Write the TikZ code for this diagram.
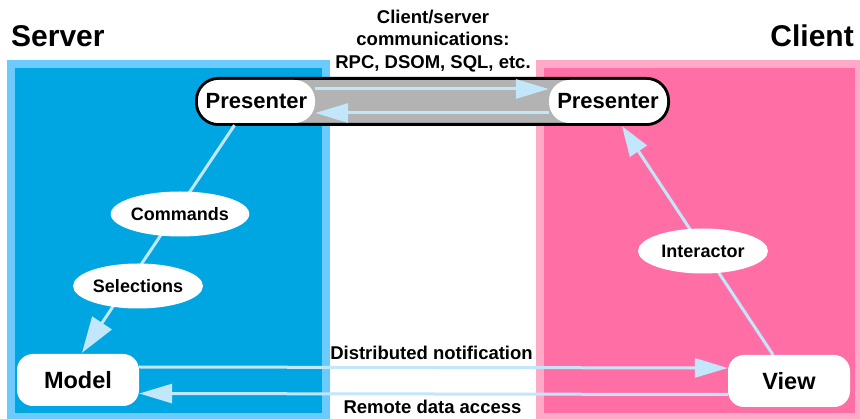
\documentclass[tikz,border=0pt]{standalone}
\usepackage{fontspec}
\setmainfont{Liberation Sans}
\usetikzlibrary{arrows.meta,shapes.geometric}
\definecolor{srvedge}{HTML}{6BCBFD}
\definecolor{srvfill}{HTML}{00A6E1}
\definecolor{cliedge}{HTML}{FFA9C8}
\definecolor{clifill}{HTML}{FF6FA6}
\definecolor{linkblue}{HTML}{C2E6FA}
\definecolor{bargray}{HTML}{B3B3B3}
\tikzset{
  box/.style={fill=white, rounded corners=16pt, minimum width=122pt, minimum height=52pt,
    inner sep=0pt, font=\fontsize{23.5}{27}\selectfont\bfseries},
  pres/.style={fill=white, rounded corners=20.5pt, minimum height=43pt,
    inner sep=0pt, font=\fontsize{22}{26}\selectfont\bfseries},
  tag/.style={ellipse, fill=white, minimum width=130pt, minimum height=45pt,
    inner sep=0pt, font=\fontsize{18}{20}\selectfont\bfseries},
  side/.style={inner sep=0pt, font=\fontsize{30}{34}\selectfont\bfseries},
  note/.style={inner sep=0pt, font=\fontsize{18.5}{22.5}\selectfont\bfseries},
  link/.style={draw=linkblue, line width=3pt, -{Triangle[length=33pt,width=19pt]}},
}
\begin{document}
\begin{tikzpicture}[x=1pt,y=-1pt]
\useasboundingbox (0,0) rectangle (860,419);

\fill[srvedge] (7,60) rectangle (330,419);
\fill[srvfill] (15,68) rectangle (322,413);
\fill[cliedge] (536,60) rectangle (860,419);
\fill[clifill] (544,68) rectangle (855,413);

\node[side, anchor=base west] (server) at (11,47) {Server};
\node[side, anchor=base east] (client) at (854,47) {Client};
\node[note, align=center] (comms) at (433,41) {Client/server\\communications:\\RPC, DSOM, SQL, etc.};

\draw[fill=bargray, line width=3pt, rounded corners=22pt] (196.5,78.5) rectangle (668.5,124.5);

\node[pres, minimum width=117pt] (spres) at (256.5,101.5) {Presenter};
\node[pres, minimum width=118pt] (cpres) at (608,101.5) {Presenter};
\node[box] (model) at (78,380) {Model};
\node[box] (view) at (789,381) {View};

\draw[link] ([yshift=12.5pt]spres.east) -- ([yshift=12.5pt]cpres.west);
\draw[link] ([yshift=-11.5pt]cpres.west) -- ([yshift=-11.5pt]spres.east);
\draw[link, -{Triangle[length=36pt,width=23pt]}] ([xshift=-22pt,yshift=-2pt]spres.south) -- ([xshift=4pt,yshift=1pt]model.north);
\draw[link, -{Triangle[length=30pt,width=20pt]}] ([xshift=-16pt]view.north) -- ([xshift=14pt,yshift=-3pt]cpres.south);
\draw[link] ([yshift=13pt]model.east) -- ([yshift=13pt]view.west);
\draw[link] ([yshift=-13.5pt]view.west) -- ([yshift=-13.5pt]model.east);

\node[tag] (cmds) at (180,214) {Commands};
\node[tag] (sels) at (138,286) {Selections};
\node[tag] (inter) at (703,251) {Interactor};

\node[note, anchor=base] (notify) at (431.5,360) {Distributed notification};
\node[note, anchor=base] (remote) at (432.5,414) {Remote data access};
\end{tikzpicture}
\end{document}
